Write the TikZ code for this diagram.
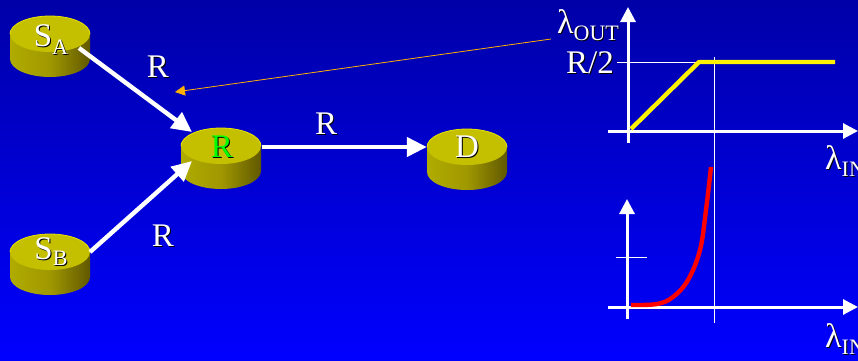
\documentclass[tikz,border=0pt]{standalone}
\usepackage{fontspec}
\setmainfont{Liberation Serif}
\usetikzlibrary{arrows.meta,shapes.geometric}
\definecolor{bgtop}{HTML}{0000A8}
\definecolor{bgbot}{HTML}{0000FF}
\definecolor{disktop}{HTML}{C4C000}
\definecolor{diskrim}{HTML}{E8E400}
\definecolor{diskl}{HTML}{B0AC00}
\definecolor{diskm}{HTML}{A09800}
\definecolor{diskr}{HTML}{605800}
\definecolor{arroworange}{HTML}{FFB000}
\newcommand{\shd}[1]{\rlap{\raisebox{-1pt}{\kern1pt\textcolor{black}{#1}}}#1}
\newcommand{\bigfont}{\fontsize{33}{33}\selectfont}
\newcommand{\subfont}{\fontsize{22}{22}\selectfont}
\newcommand{\lamfont}{\fontsize{34}{34}\selectfont}
\tikzset{
  x=1pt,y=-1pt,
  disk/.style={ellipse,minimum width=80pt,minimum height=36pt,inner sep=0pt,text=white,font=\bigfont},
  wire/.style={draw=white,line width=4.4pt,-{Triangle[length=20pt,width=19pt]}},
  axis/.style={draw=white,line width=3pt,-{Triangle[length=15pt,width=15pt]}},
  thinline/.style={draw=white,line width=0.8pt},
  lab/.style={text=white,font=\bigfont,inner sep=0pt},
  pointer/.style={draw=arroworange,line width=0.8pt,-{Triangle[length=10pt,width=10pt]}}
}
\newcommand{\diskbody}[2]{%
  \path[left color=diskl,right color=diskr,middle color=diskm]
    (#1-40,#2) -- (#1-40,#2+25) arc[x radius=40,y radius=18,start angle=180,end angle=0] -- (#1+40,#2) -- cycle;
  \path[fill=disktop] (#1,#2) ellipse[x radius=40,y radius=18];
  \draw[diskrim,line width=0.8pt] (#1-40,#2) arc[x radius=40,y radius=18,start angle=180,end angle=360];
}
\begin{document}
\begin{tikzpicture}
\useasboundingbox (0,0) rectangle (858,360);
\clip (0,0) rectangle (858,360);
\shade[top color=bgtop,bottom color=bgbot] (0,0) rectangle (858,360);
\diskbody{50}{34}
\diskbody{50}{252}
\diskbody{221}{146}
\diskbody{467}{147}
\node[disk,text depth=0pt] (SA) at (51,34) {\raisebox{-4pt}{\shd{S}\raisebox{-8pt}{\subfont\shd{A}}}};
\node[disk] (SB) at (51,252) {\raisebox{-3pt}{\shd{S}\raisebox{-6pt}{\subfont\shd{B}}}};
\node[disk,text=green] (R) at (222,147) {\raisebox{-2pt}{\rlap{\raisebox{-1pt}{\kern1pt\textcolor{black}{R}}}R}};
\node[disk] (D) at (467,147) {\raisebox{-2pt}{\shd{D}}};
\draw[wire] ([shift={(28,14)}]SA.center) -- ([shift={(-30,-15)}]R.center);
\draw[wire] ([shift={(39,0)}]SB.center) -- ([shift={(-30,14)}]R.center);
\draw[wire] (R.east) -- (D.west);
\node[lab] (r1) at (158,67) {\shd{R}};
\node[lab] (r2) at (163,236) {\shd{R}};
\node[lab] (r3) at (326,124) {\shd{R}};
% upper graph
\coordinate (ya0) at (628,143);
\coordinate (ya1) at (628,7);
\coordinate (xa0) at (608,131);
\coordinate (xa1) at (858,131);
\draw[axis] (ya0) -- (ya1);
\draw[axis] (xa0) -- (xa1);
\node[anchor=base west,inner sep=0pt,text=white] (lo) at (557,33) {\lamfont\shd{λ}\raisebox{-7pt}{\subfont\shd{OUT}}};
\node[lab] (half) at (590,63) {\shd{R/2}};
\coordinate (k0) at (617,62);
\coordinate (k1) at (699,62);
\coordinate (y0) at (631,129);
\coordinate (y1) at (835,62);
\coordinate (v0) at (714,57);
\coordinate (v1) at (714,323);
\draw[thinline] (k0) -- (k1);
\draw[thinline] (v0) -- (v1);
\draw[yellow,line width=4.4pt,line join=round] (y0) -- (k1) -- (y1);
\node[anchor=base west,inner sep=0pt,text=white] (li1) at (825,169) {\lamfont\shd{λ}\raisebox{-7pt}{\subfont\shd{IN}}};
% lower graph
\coordinate (yb0) at (627,319);
\coordinate (yb1) at (627,199);
\coordinate (xb0) at (608,307);
\coordinate (xb1) at (858,307);
\coordinate (t0) at (616,257);
\coordinate (t1) at (647,257);
\draw[axis] (yb0) -- (yb1);
\draw[axis] (xb0) -- (xb1);
\draw[thinline] (t0) -- (t1);
\draw[red,line width=4.4pt] plot[smooth,tension=0.6] coordinates {(631,305) (657,304) (673,297) (688,280) (700,250) (706,210) (711,167)};
\node[anchor=base west,inner sep=0pt,text=white] (li2) at (825,347) {\lamfont\shd{λ}\raisebox{-7pt}{\subfont\shd{IN}}};
\coordinate (pstart) at (551,39);
\coordinate (pend) at (175,92);
\draw[pointer] (pstart) -- (pend);
\end{tikzpicture}
\end{document}
